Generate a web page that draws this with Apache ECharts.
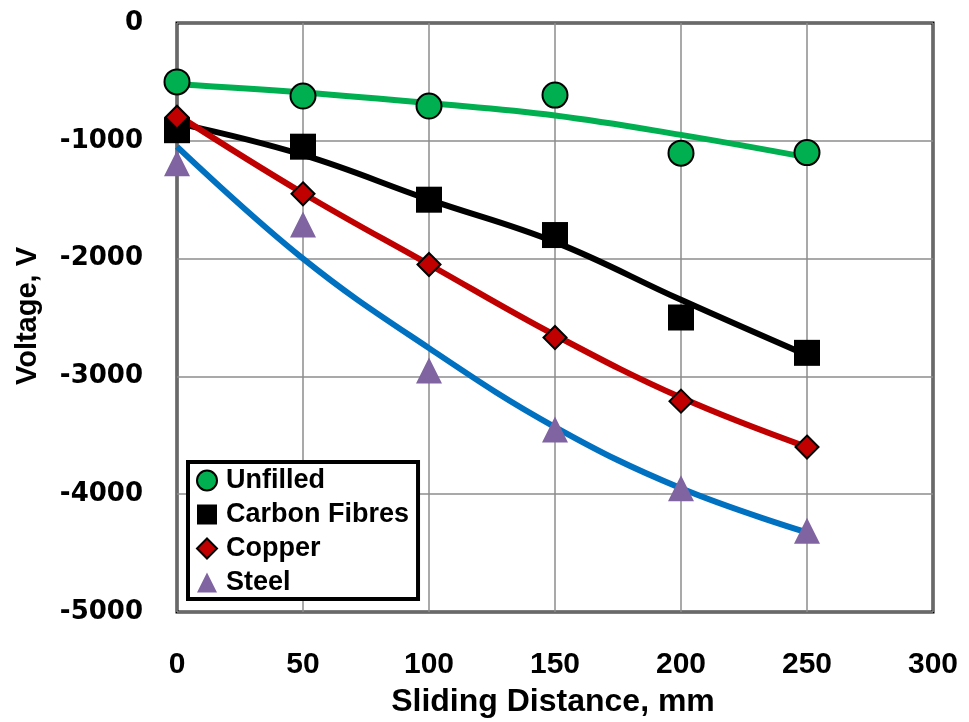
<!DOCTYPE html>
<html><head><meta charset="utf-8">
<script src="https://cdn.jsdelivr.net/npm/echarts@6/dist/echarts.min.js"></script>
<style>html,body{margin:0;padding:0;background:#fff}#c{width:969px;height:722px}</style>
</head><body><div id="c"></div>
<script>
const distances = [0, 50, 100, 150, 200, 250];
const xTicks = [0, 50, 100, 150, 200, 250, 300];
const yTicks = [0, -1000, -2000, -3000, -4000, -5000];

const unfilled = [-500, -620, -705, -612, -1105, -1100];
const carbonFibres = [-910, -1050, -1500, -1800, -2500, -2800];
const copper = [-800, -1450, -2050, -2670, -3210, -3600];
const steel = [-1190, -1710, -2950, -3450, -3950, -4310];

const unfilledTrend = [-520, -590, -680, -785, -950, -1140];
const carbonTrend = [-850, -1120, -1500, -1860, -2350, -2820];
const copperTrend = [-780, -1445, -2050, -2650, -3180, -3600];
const steelTrend = [-1050, -2000, -2760, -3430, -3950, -4325];

const pairs = a => distances.map((d, i) => [d, a[i]]);
const chart = echarts.init(document.getElementById('c'), null, {renderer: 'canvas'});

const sans = '"Liberation Sans", Arial, sans-serif';

function trend(name, data, color) {
  return {name: name, type: 'line', data: pairs(data), smooth: 0.4, showSymbol: false, symbol: 'none',
    lineStyle: {color: color, width: 6}, z: 2, silent: true, legendHoverLink: false};
}
function pts(name, data, symbol, size, color, border) {
  return {name: name, type: 'scatter', data: pairs(data), symbol: symbol, symbolSize: size,
    itemStyle: {color: color, borderColor: '#000', borderWidth: border, opacity: 1}, z: 3};
}

chart.setOption({
  animation: false,
  backgroundColor: '#fff',
  grid: {left: 177, right: 36, top: 23, bottom: 110, show: true, borderColor: '#000', borderWidth: 3, containLabel: false},
  xAxis: {type: 'value', min: 0, max: 300, interval: 50,
    axisLine: {show: false}, axisTick: {show: false},
    splitLine: {show: true, lineStyle: {color: '#8c8c8c', width: 1.5}},
    axisLabel: {margin: 38, color: '#000', fontSize: 30, fontWeight: 'bold', fontFamily: sans,
      formatter: v => xTicks.includes(v) ? String(v) : ''}},
  yAxis: {type: 'value', min: -5000, max: 0, interval: 1000,
    axisLine: {show: false}, axisTick: {show: false},
    splitLine: {show: true, lineStyle: {color: '#8c8c8c', width: 1.5}},
    axisLabel: {margin: 34, color: '#000', fontSize: 26, fontWeight: 'bold', fontFamily: '"DejaVu Sans", Verdana, sans-serif',
      formatter: v => yTicks.includes(v) ? String(v) : ''}},
  legend: {
    left: 188, top: 462, orient: 'vertical', itemGap: 7, itemWidth: 20, itemHeight: 20,
    padding: [5, 9, 3, 8],
    borderColor: '#000', borderWidth: 4, backgroundColor: '#fff',
    data: ['Unfilled', 'Carbon Fibres', 'Copper', 'Steel'],
    textStyle: {color: '#000', fontSize: 27, lineHeight: 24, fontWeight: 'bold', fontFamily: sans, padding: [0, 0, 0, 4]}
  },
  graphic: [
    {type: 'text', x: 553, y: 702,
      style: {text: 'Sliding Distance, mm', fill: '#000', font: 'bold 32px ' + sans, align: 'center', verticalAlign: 'middle'}},
    {type: 'text', x: 28, y: 316, rotation: Math.PI / 2,
      style: {text: 'Voltage, V', fill: '#000', font: 'bold 29px ' + sans, align: 'center', verticalAlign: 'middle'}}
  ],
  series: [
    trend('t1', unfilledTrend, '#00B050'),
    trend('t2', carbonTrend, '#000000'),
    trend('t3', copperTrend, '#C00000'),
    trend('t4', steelTrend, '#0070C0'),
    pts('Unfilled', unfilled, 'circle', 25, '#00B050', 2),
    pts('Carbon Fibres', carbonFibres, 'rect', 26, '#000000', 0),
    pts('Copper', copper, 'diamond', 23, '#C00000', 2),
    pts('Steel', steel, 'triangle', 26, '#8064A2', 0)
  ]
});
</script></body></html>
